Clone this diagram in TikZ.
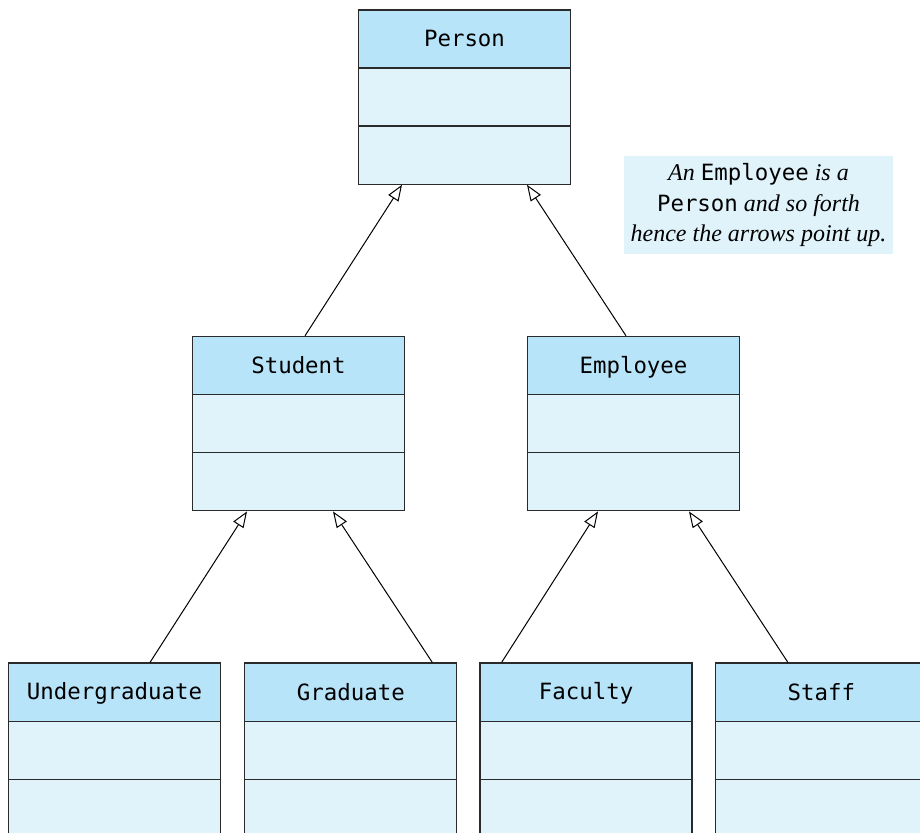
\documentclass[tikz,border=0pt]{standalone}
\usepackage{fontspec}
\setmainfont{Liberation Serif}
\setmonofont{DejaVu Sans Mono}
\usetikzlibrary{positioning, arrows.meta, shapes.multipart}
\definecolor{hdrblue}{HTML}{B8E4F9}
\definecolor{bodyblue}{HTML}{E0F3FB}
\definecolor{edgegray}{HTML}{2A2A2A}
\newcommand{\clsrow}[1]{\parbox[c][28.4pt][c]{106pt}{\centering\fontsize{11.2}{13}\selectfont\ttfamily\rule[-2pt]{0pt}{12pt}#1}}
\newcommand{\cname}[1]{{\upshape\ttfamily\fontsize{11.2}{15.25}\selectfont #1}}

\begin{document}
\begin{tikzpicture}[x=0.5pt, y=-0.5pt, node distance=75.5pt and 11pt,
  cls/.style={rectangle split, rectangle split parts=3, draw=edgegray, line width=0.65pt,
              rectangle split part fill={hdrblue,bodyblue,bodyblue}, inner sep=0pt},
  note/.style={fill=bodyblue, align=center, minimum width=134.5pt, minimum height=49pt,
               font=\fontsize{12}{15.25}\selectfont\itshape},
  inh/.style={-{Triangle[open, length=8pt, width=6pt]}, line width=0.5pt}]
  \useasboundingbox (0,0) rectangle (920,832);
  \clip (0,0) rectangle (920,832);
  \node[cls] (person) at (464.5,97)
    {\clsrow{Person}\nodepart{two}\clsrow{}\nodepart{three}\clsrow{}};
  \node[cls, below=of person, xshift=-83pt] (student)
    {\clsrow{Student}\nodepart{two}\clsrow{}\nodepart{three}\clsrow{}};
  \node[cls, below=of person, xshift=84.5pt] (employee)
    {\clsrow{Employee}\nodepart{two}\clsrow{}\nodepart{three}\clsrow{}};
  \node[cls, below=of student, xshift=-92pt] (ugrad)
    {\clsrow{Undergraduate}\nodepart{two}\clsrow{}\nodepart{three}\clsrow{}};
  \node[cls, right=11.5pt of ugrad] (grad)
    {\clsrow{Graduate}\nodepart{two}\clsrow{}\nodepart{three}\clsrow{}};
  \node[cls, right=of grad] (faculty)
    {\clsrow{Faculty}\nodepart{two}\clsrow{}\nodepart{three}\clsrow{}};
  \node[cls, right=of faculty] (staff)
    {\clsrow{Staff}\nodepart{two}\clsrow{}\nodepart{three}\clsrow{}};
  % inheritance arrows
  \draw[inh] ([xshift=3.25pt]student.north) -- ([xshift=-31.25pt]person.south);
  \draw[inh] ([xshift=-3.75pt]employee.north) -- ([xshift=31.25pt]person.south);
  \draw[inh] ([xshift=17.75pt]ugrad.north) -- ([xshift=-25.75pt]student.south);
  \draw[inh] ([xshift=40.75pt]grad.north) -- ([xshift=17.25pt]student.south);
  \draw[inh] ([xshift=-42.25pt]faculty.north) -- ([xshift=-17.75pt]employee.south);
  \draw[inh] ([xshift=-16.75pt]staff.north) -- ([xshift=27.75pt]employee.south);
  % note
  \node[note] (remark) at (758.5,205)
    {An \cname{Employee} is a\\ \cname{Person} and so forth\\ hence the arrows point up.};
\end{tikzpicture}
\end{document}
